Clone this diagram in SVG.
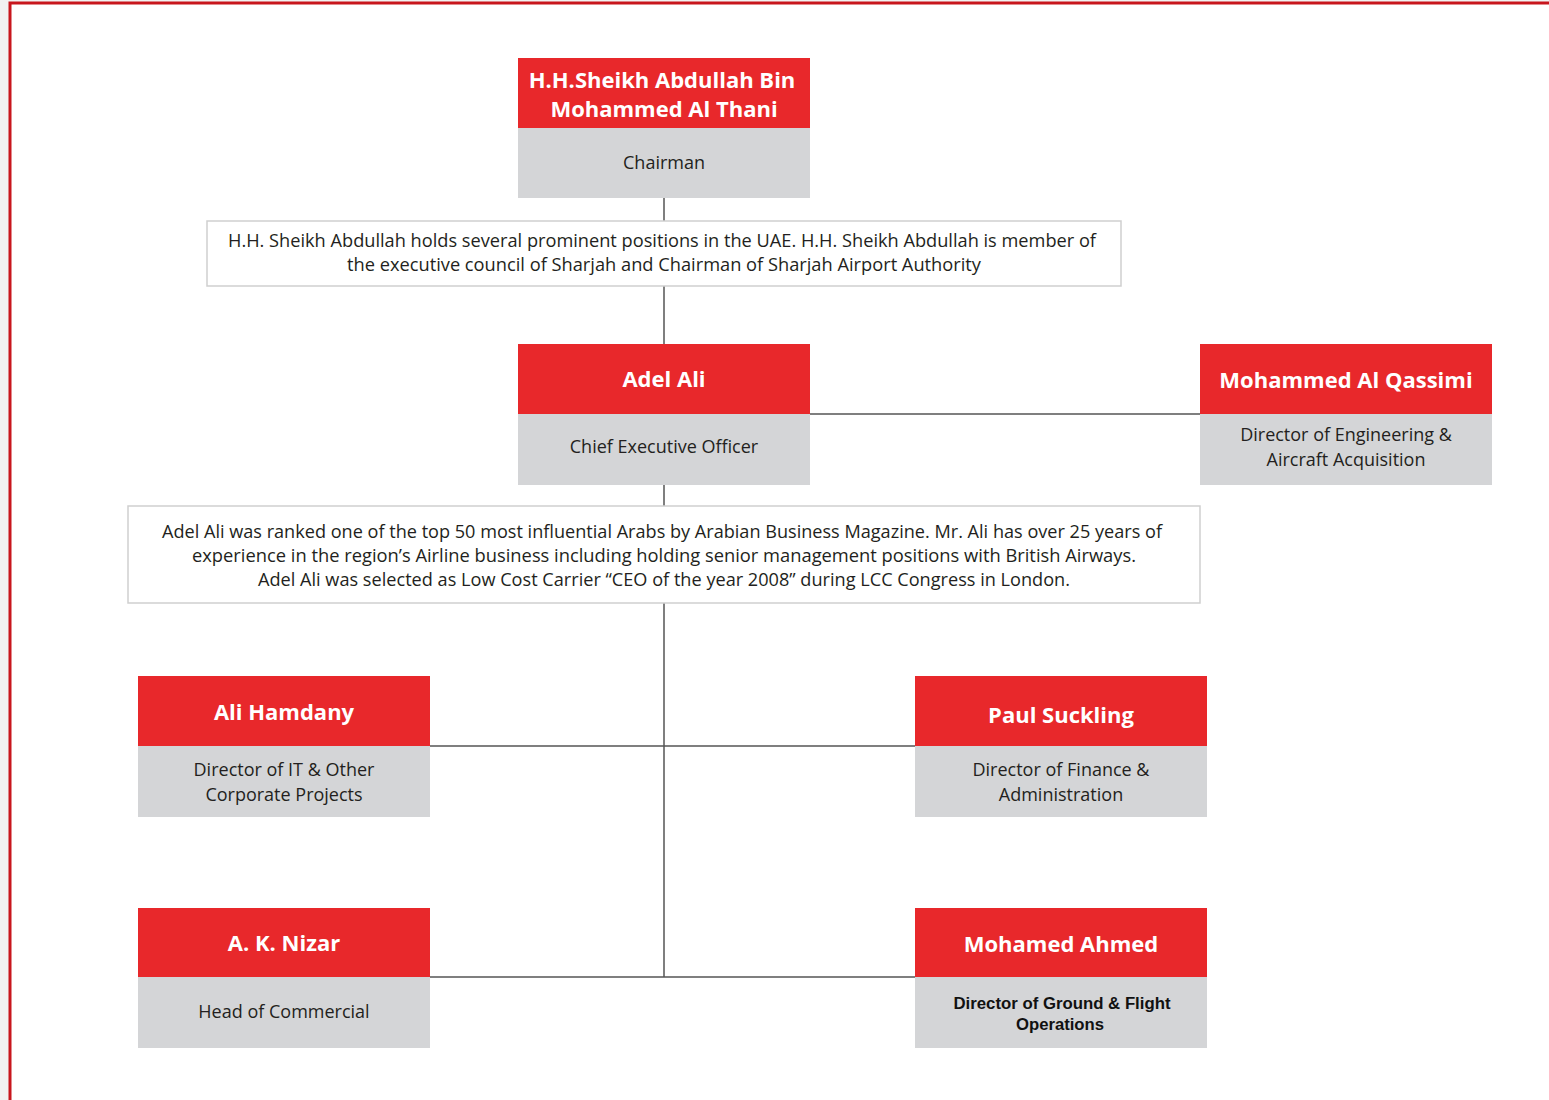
<svg xmlns="http://www.w3.org/2000/svg" width="1549" height="1100" viewBox="0 0 1549 1100">
<style>
.hd{fill:#e8282b}
.sb{fill:#d4d5d7}
.nm{font-family:"Open Sans","Liberation Sans",sans-serif;font-weight:700;font-size:22px;fill:#ffffff;text-anchor:middle}
.rl{font-family:"Open Sans","Liberation Sans",sans-serif;font-size:18px;fill:#231f20;text-anchor:middle}
.ds{font-family:"Open Sans","Liberation Sans",sans-serif;font-size:17.5px;fill:#231f20;text-anchor:middle}
.bx{fill:#ffffff;stroke:#cfcfcf;stroke-width:1.5}
.cn{stroke:#555555;stroke-width:1.5;fill:none}
.ar{font-family:"Liberation Sans",Arial,sans-serif;font-weight:700;font-size:16px;fill:#111111;text-anchor:middle}
</style>
<rect x="0" y="0" width="1549" height="1100" fill="#f2f2f2"/>
<rect x="10" y="3" width="1545" height="1105" fill="#ffffff" stroke="#c8161d" stroke-width="3"/>
<g id="connectors">
<line class="cn" x1="664" y1="198" x2="664" y2="221"/>
<line class="cn" x1="664" y1="286" x2="664" y2="344"/>
<line class="cn" x1="664" y1="485" x2="664" y2="506"/>
<line class="cn" x1="664" y1="603" x2="664" y2="977"/>
<line class="cn" x1="810" y1="414" x2="1200" y2="414"/>
<line class="cn" x1="430" y1="746" x2="915" y2="746"/>
<line class="cn" x1="430" y1="977" x2="915" y2="977"/>
</g>
<g id="chairman">
<rect class="hd" x="518" y="58" width="292" height="70"/>
<rect class="sb" x="518" y="128" width="292" height="70"/>
<text class="nm" x="662" y="88">H.H.Sheikh Abdullah Bin</text>
<text class="nm" x="664" y="117">Mohammed Al Thani</text>
<text class="rl" x="664" y="169">Chairman</text>
</g>
<g id="chairman-note">
<rect class="bx" x="207" y="221" width="914" height="65"/>
<text class="ds" x="662" y="247" textLength="868" lengthAdjust="spacingAndGlyphs">H.H. Sheikh Abdullah holds several prominent positions in the UAE. H.H. Sheikh Abdullah is member of</text>
<text class="ds" x="664" y="271" textLength="634" lengthAdjust="spacingAndGlyphs">the executive council of Sharjah and Chairman of Sharjah Airport Authority</text>
</g>
<g id="ceo">
<rect class="hd" x="518" y="344" width="292" height="70"/>
<rect class="sb" x="518" y="414" width="292" height="71"/>
<text class="nm" x="664" y="387">Adel Ali</text>
<text class="rl" x="664" y="453">Chief Executive Officer</text>
</g>
<g id="qassimi">
<rect class="hd" x="1200" y="344" width="292" height="70"/>
<rect class="sb" x="1200" y="414" width="292" height="71"/>
<text class="nm" x="1346" y="388">Mohammed Al Qassimi</text>
<text class="rl" x="1346" y="441">Director of Engineering &amp;</text>
<text class="rl" x="1346" y="466">Aircraft Acquisition</text>
</g>
<g id="ceo-note">
<rect class="bx" x="128" y="506" width="1072" height="97"/>
<text class="ds" x="662" y="538" textLength="1000" lengthAdjust="spacingAndGlyphs">Adel Ali was ranked one of the top 50 most influential Arabs by Arabian Business Magazine. Mr. Ali has over 25 years of</text>
<text class="ds" x="664" y="562" textLength="944" lengthAdjust="spacingAndGlyphs">experience in the region’s Airline business including holding senior management positions with British Airways.</text>
<text class="ds" x="664" y="586" textLength="812" lengthAdjust="spacingAndGlyphs">Adel Ali was selected as Low Cost Carrier “CEO of the year 2008” during LCC Congress in London.</text>
</g>
<g id="hamdany">
<rect class="hd" x="138" y="676" width="292" height="70"/>
<rect class="sb" x="138" y="746" width="292" height="71"/>
<text class="nm" x="284" y="720">Ali Hamdany</text>
<text class="rl" x="284" y="776">Director of IT &amp; Other</text>
<text class="rl" x="284" y="801">Corporate Projects</text>
</g>
<g id="suckling">
<rect class="hd" x="915" y="676" width="292" height="70"/>
<rect class="sb" x="915" y="746" width="292" height="71"/>
<text class="nm" x="1061" y="723">Paul Suckling</text>
<text class="rl" x="1061" y="776">Director of Finance &amp;</text>
<text class="rl" x="1061" y="801">Administration</text>
</g>
<g id="nizar">
<rect class="hd" x="138" y="908" width="292" height="69"/>
<rect class="sb" x="138" y="977" width="292" height="71"/>
<text class="nm" x="284" y="951">A. K. Nizar</text>
<text class="rl" x="284" y="1018">Head of Commercial</text>
</g>
<g id="ahmed">
<rect class="hd" x="915" y="908" width="292" height="69"/>
<rect class="sb" x="915" y="977" width="292" height="71"/>
<text class="nm" x="1061" y="952">Mohamed Ahmed</text>
<text class="ar" x="1062" y="1009" textLength="217" lengthAdjust="spacingAndGlyphs">Director of Ground &amp; Flight</text>
<text class="ar" x="1060" y="1030" textLength="88" lengthAdjust="spacingAndGlyphs">Operations</text>
</g>
</svg>
